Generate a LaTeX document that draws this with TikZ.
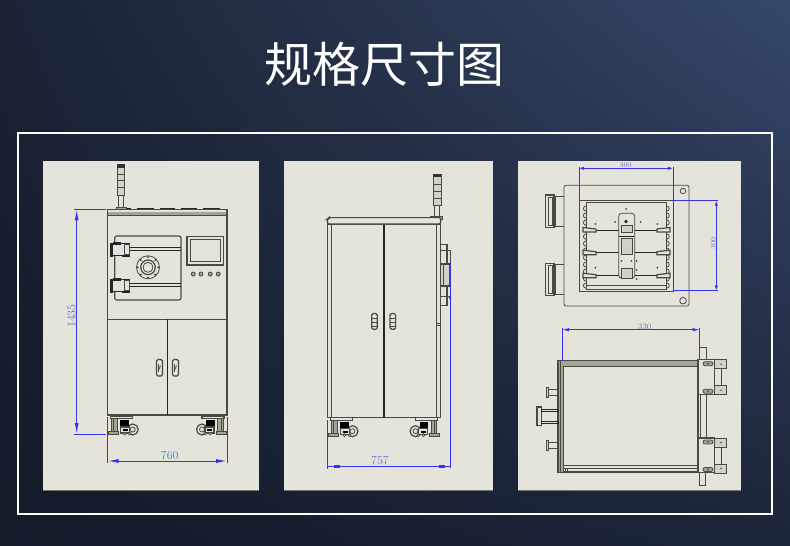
\documentclass[tikz,border=0pt]{standalone}
\usepackage{fontspec}
\newfontfamily\cjk{Noto Sans CJK SC}
\usetikzlibrary{arrows.meta,shadings}
\definecolor{panelbg}{HTML}{E4E4DA}
\definecolor{drawline}{HTML}{4A4A44}
\definecolor{dimblue}{HTML}{3434E8}
\definecolor{dimtext}{HTML}{6A6AD8}
\definecolor{bandgrey}{HTML}{A5A596}
\definecolor{bgul}{HTML}{1A2234}
\definecolor{bgur}{HTML}{364769}
\definecolor{bgll}{HTML}{131A28}
\definecolor{bglr}{HTML}{1C2438}
% caster seen from the front, origin at the lower corner of the cabinet
\newcommand{\caster}[2]{
  \begin{scope}[shift={#1},xscale=#2]
    \draw[thick part] (3,0) rectangle (25,2.5);
    \draw[part,fill=bandgrey] (4,2.5) rectangle (9.5,15.5);
    \draw[part] (6,2.5) -- (6,15.5);
    \draw[part,fill=bandgrey] (1,15.5) rectangle (11,18.5);
    \draw[thick part,fill=panelbg] (25,13.5) circle (5.5);
    \draw[part] (25,13.5) circle (2.5);
    \fill[black] (12.5,4) rectangle (21,11);
    \draw[thick part,fill=panelbg] (13,11) rectangle (22,17);
    \fill[black] (15,13) rectangle (20,15);
    \draw[part,fill=panelbg] (17,17.5) circle (1.4);
    \draw[part,fill=panelbg] (22,17.5) circle (1.4);
  \end{scope}
}
\newcommand{\doorhandle}[2]{
  \draw[thick part,rounded corners=1.5pt] (#1,#2) rectangle ++(6,16.5);
  \draw[part] (#1+1.5,#2+4) -- (#1+1.5,#2+12);
  \draw[part] (#1+4,#2+6) -- (#1+2,#2+11);
}
\begin{document}
\begin{tikzpicture}[x=1pt,y=-1pt,
    part/.style={draw=drawline,line width=.8pt},
    thick part/.style={draw=drawline,line width=1.2pt},
    dark part/.style={draw=black!85,line width=1.3pt},
    dimline/.style={draw=dimblue,line width=1pt},
    thin dim/.style={draw=dimblue,line width=.7pt},
    dimarrow/.style={dimline,{Latex[length=11pt,width=4pt]}-{Latex[length=11pt,width=4pt]}},
    smallarrow/.style={dimline,{Latex[length=5pt,width=3.5pt]}-{Latex[length=5pt,width=3.5pt]}},
    dimlabel/.style={text=dimtext,inner sep=0pt,font=\fontsize{12}{12}\selectfont},
    smalllabel/.style={dimlabel,font=\fontsize{7}{7}\selectfont}]
  \useasboundingbox (0,0) rectangle (790,546);
  % background, frame and the three sheets
  \shade[upper left=bgul,upper right=bgur,lower left=bgll,lower right=bglr]
    (0,0) rectangle (790,546);
  \node[text=white,inner sep=0pt,font=\cjk\fontsize{48}{48}\selectfont] (title) at (384.5,64) {规格尺寸图};
  \draw[white,line width=1.8pt] (18,133) rectangle (772,514);
  \foreach \a/\b in {43/259,284/493,518/741} {
    \fill[panelbg] (\a,161) rectangle (\b,490);
    \draw[bandgrey!70!black,line width=.8pt] (\a,490) -- (\b,490);
  }

  % front view
  \draw[part,fill=panelbg] (118,195) rectangle (123,207);
  \draw[part,fill=bandgrey!50] (117,164) rectangle (124.5,195);
  \fill[black!80] (117,164) rectangle (124.5,168);
  \foreach \y in {174,180,187} {
    \draw[part] (117,\y) -- (124.5,\y);
  }
  \draw[part,fill=bandgrey] (116,207) rectangle (126,209.3);
  \foreach \a/\b in {126/131,137/154,160/175,181/197,203/220} {
    \draw[dark part] (\a,208.5) -- (\b,208.5);
  }
  \draw[thick part] (107.7,209.3) rectangle (227,415);
  \fill[bandgrey] (108.3,212) rectangle (226.4,215.8);
  \draw[part] (107.7,215.8) -- (227,215.8);
  \draw[thick part] (107.7,319.3) -- (227,319.3);
  \draw[dark part,line width=1.5pt] (167.3,319.3) -- (167.3,415);
  \draw[thick part,rounded corners=2pt] (114.7,236) rectangle (181,300);
  \foreach \y in {247.3,283.3} {
    \draw[dark part] (129,\y) -- (181,\y);
    \draw[dark part] (129,\y+3) -- (181,\y+3);
  }
  \foreach \y in {241.7,277.7} {
    \draw[dark part,fill=panelbg] (110.5,\y+1.5) rectangle (129.5,\y+14);
    \fill[black!85] (109.7,\y+1) rectangle (113,\y+15);
    \fill[black!85] (113,\y) rectangle (121,\y+3);
    \fill[black!85] (122,\y+13) rectangle (129.7,\y+15.6);
    \draw[part] (124,\y+3) rectangle (129.5,\y+13);
  }
  \draw[part] (148,267.3) circle (11.5);
  \draw[thick part] (148,267.3) circle (7.3);
  \draw[part] (148,267.3) circle (5);
  \foreach \a in {0,45,...,315} {
    \fill[black!80] (148,267.3) ++(\a:10.2) circle (1);
  }
  \draw[thick part] (187,236.7) rectangle (223.7,265);
  \draw[thick part] (190.7,239.3) rectangle (220.7,261.7);
  \foreach \x in {193.3,201,210.3,218.3} {
    \draw[part,fill=bandgrey] (\x,274) circle (2);
  }
  \doorhandle{156.5}{359.5}
  \doorhandle{172.5}{359.5}
  \caster{(107.7,416)}{1}
  \caster{(227,416)}{-1}

  \coordinate (hightop) at (76.7,209.3);
  \coordinate (highbot) at (76.7,434);
  \coordinate (toptick) at (105.7,209.3);
  \coordinate (bottick) at (106.3,434);
  \coordinate (widthl) at (107.7,461);
  \coordinate (widthr) at (227,461);
  \draw[thin dim] (74,209.3) -- (toptick);
  \draw[thin dim] (74,434) -- (bottick);
  \draw[thin dim] (107.7,417) -- (107.7,463);
  \draw[thin dim] (227,417) -- (227,463);
  \draw[dimarrow] (hightop) -- (highbot);
  \draw[dimarrow] (widthl) -- (widthr);
  \node[dimlabel,rotate=90] (highlabel) at (71.5,316) {1435};
  \node[dimlabel] (widthlabel) at (169.7,455.7) {760};

  % side view
  \draw[part,fill=panelbg] (434.5,205) rectangle (439,216);
  \draw[part,fill=bandgrey!50] (433,174) rectangle (441.3,205);
  \fill[black!80] (433,174) rectangle (441.3,176.5);
  \foreach \y in {184,191,198} {
    \draw[part] (433,\y) -- (441.3,\y);
  }
  \draw[part,fill=bandgrey] (430.7,216) rectangle (442.3,219.3);
  \draw[dark part,dash pattern=on 2pt off 1.4pt] (352.3,217.3) -- (419,217.3);
  \draw[thick part] (327.3,224) rectangle (440.7,417.7);
  \draw[thick part,fill=panelbg,rounded corners=2pt] (327.3,224) -- (327.3,219) -- (329,217.6) -- (440.7,217.6) -- (440.7,224) -- cycle;
  \draw[thick part] (331.3,224) -- (331.3,417.7);
  \draw[thick part] (436.3,224) -- (436.3,417.7);
  \draw[dark part,line width=1.5pt] (384,225) -- (384,417.7);
  \draw[part] (436.7,323) rectangle (440,325);
  \foreach \x in {371.7,390} {
    \draw[thick part,rounded corners=1.5pt] (\x,313.5) rectangle ++(5.6,15.8);
    \draw[part] (\x,318) -- ++(5.6,0);
    \draw[part] (\x,322) -- ++(5.6,0);
    \draw[part] (\x,326) -- ++(5.6,0);
  }
  % handles on the side
  \draw[thick part] (440.7,244.3) rectangle (447,250.7);
  \draw[thick part] (440.7,296.7) rectangle (447,305.7);
  \draw[thick part] (447,250.7) rectangle (450.3,264);
  \draw[thick part] (447,286) rectangle (450.3,296.7);
  \draw[thick part,fill=bandgrey!50] (440.7,264) rectangle (450,286);
  \draw[thick part] (443.5,264) -- (443.5,286);
  \coordinate (sideupper) at (450,264);
  \coordinate (sidelower) at (450,468);
  \coordinate (sidebot) at (327.3,469);
  \coordinate (depthl) at (327.3,466.7);
  \coordinate (depthr) at (450,466.7);
  \draw[dimline] (sideupper) -- (sidelower);
  \foreach \y in {264,286,298} {
    \fill[dimblue!70!black] (450,\y) circle (1.2);
  }
  \caster{(327.5,417.7)}{1}
  \caster{(440.5,417.7)}{-1}

  \draw[dimline] (327.3,420) -- (sidebot);
  \draw[dimline] (depthl) -- (depthr);
  \fill[dimblue] (334,465.4) rectangle (340,468);
  \fill[dimblue] (439,465.4) rectangle (445,468);
  \node[dimlabel] (depthlabel) at (380,461) {757};

  % top view
  \draw[part,fill=panelbg,rounded corners=2pt] (564,185.3) rectangle (689,306);
  \foreach \y in {195,263.3} {
    \draw[part] (564,\y+1.5) -- (555,\y+1.5) -- (555,\y+31) -- (564,\y+31);
    \draw[thick part] (545.3,\y) rectangle (554,\y+32.3);
    \draw[part] (548,\y+2) rectangle (552,\y+30);
  }
  \draw[part] (683,191) circle (2.8);
  \draw[part] (683,300.7) circle (3.3);
  \draw[part] (579,200.7) rectangle (673,291.7);
  \draw[thick part] (586.3,202.3) rectangle (666.3,289.3);
  \draw[part] (586.3,285.5) -- (666.3,285.5);
  \foreach \x/\s in {586/-1,666.7/1} {
    \foreach \y in {206,213,...,283} {
      \draw[part] (\x,\y) arc[start angle=-90,delta angle=\s*180,radius=2.6];
    }
  }
  \foreach \y in {230,252.7,275.7} {
    \draw[dark part,line width=1pt] (595,\y) -- (658,\y);
    \draw[thick part,fill=panelbg] (583,\y-2.5) -- (596,\y-1) -- (596,\y+2) -- (583,\y+2) -- cycle;
    \draw[thick part,fill=panelbg] (670,\y-2.5) -- (657,\y-1) -- (657,\y+2) -- (670,\y+2) -- cycle;
  }
  \draw[part,fill=panelbg,rounded corners=3pt] (618.7,278.3) -- (618.7,213.3) -- (634.7,213.3) -- (634.7,278.3) -- cycle;
  \draw[part,fill=bandgrey!50] (621,225) rectangle (632,232);
  \draw[part,fill=bandgrey!50] (621,238) rectangle (632,254);
  \draw[dark part,line width=1pt] (619,236.5) -- (634,236.5);
  \draw[part,fill=bandgrey!50] (621,268) rectangle (632,278);
  \fill[black!85] (626,221.5) circle (1.8);
  \foreach \x/\y in {595.3/224,657.3/224,595.3/267.7,657.3/267.7,
      626/209,615/222,640.7/222,621.3/261,631.3/261,636.7/261,636.7/270,636.7/279} {
    \fill[drawline] (\x,\y) circle (1);
  }

  \coordinate (topl) at (579,168.3);
  \coordinate (topr) at (673,168.3);
  \coordinate (rightup) at (716.3,200.7);
  \coordinate (rightlo) at (716.3,290.7);
  \coordinate (slotl) at (562,329.7);
  \coordinate (slotr) at (699.7,329.7);
  \draw[thin dim] (579,167) -- (579,200.7);
  \draw[thin dim] (673,167) -- (673,200.7);
  \draw[thin dim] (673,200.7) -- (718,200.7);
  \draw[thin dim] (673,290.7) -- (718,290.7);
  \draw[smallarrow] (topl) -- (topr);
  \draw[smallarrow] (rightup) -- (rightlo);
  \node[smalllabel] (toplabel) at (625.7,165.5) {300};
  \node[smalllabel,rotate=90] (rightlabel) at (713.3,243.5) {300};

  % plan view
  \draw[part,fill=panelbg] (699.7,347) rectangle (706.3,360);
  \draw[part,fill=panelbg] (699.7,472) rectangle (705.7,485.3);
  \draw[thick part] (558,360.7) rectangle (698,472);
  \draw[part,fill=bandgrey] (558,360.7) rectangle (563,472);
  \draw[part] (560,360.7) -- (560,472);
  \fill[bandgrey] (563,360.7) rectangle (698,366.7);
  \draw[part] (563,366.7) -- (698,366.7);
  \draw[part] (563,465.7) -- (698,465.7);
  \draw[part] (563,468.5) -- (698,468.5);
  \draw[part] (565,468) rectangle (567,472);
  \draw[thick part] (700.7,394) -- (700.7,438);
  \draw[thick part] (706.3,394) -- (706.3,438);
  \foreach \y in {359.7,438} {
    \draw[thick part,fill=panelbg] (698,\y) rectangle (714.7,\y+34.5);
    \draw[part,fill=panelbg] (714.7,\y+2) rectangle (721,\y+34);
    \foreach \d in {0,26} {
      \draw[part,fill=bandgrey!50] (714.7,\y+\d) rectangle (726.3,\y+\d+9);
      \fill[drawline] (721,\y+\d+4.5) circle (.8);
    }
    \foreach \d in {4,31.5} {
      \draw[part,fill=bandgrey,rounded corners=2pt] (703,\y+\d-2) rectangle (713,\y+\d+2);
      \fill[drawline] (708,\y+\d) circle (1);
    }
  }
  \foreach \y in {392,445} {
    \draw[part,fill=bandgrey!50] (546.3,\y-4.5) rectangle (548.7,\y+5);
    \draw[part] (548.7,\y-3) rectangle (558,\y+3.5);
  }
  \draw[thick part] (537,407) rectangle (541.5,425.7);
  \draw[dark part,line width=.9pt] (541.5,409.5) rectangle (558,411.5);
  \draw[dark part,line width=.9pt] (541.5,421.5) rectangle (558,423.5);

  \draw[thin dim] (562,328) -- (562,360.7);
  \draw[thin dim] (699.7,328) -- (699.7,347);
  \draw[smallarrow,{Latex[length=7pt,width=3.5pt]}-{Latex[length=7pt,width=3.5pt]}] (slotl) -- (slotr);
  \node[dimlabel,font=\fontsize{8.5}{8.5}\selectfont] (slotlabel) at (644.7,326.5) {330};
\end{tikzpicture}
\end{document}
